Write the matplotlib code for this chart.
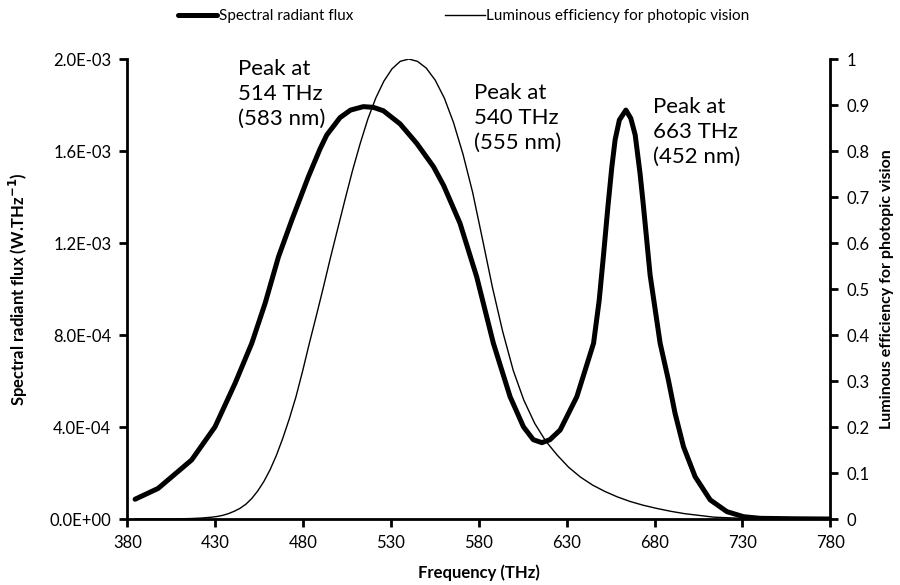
import numpy as np
import matplotlib
matplotlib.use('Agg')
import matplotlib.pyplot as plt
from matplotlib.ticker import FuncFormatter

plt.rcParams['font.family'] = ['Lato', 'DejaVu Sans']

# spectral radiant flux of the source (THz, W/THz)
flux_freq = [384.4, 397.5, 416.6, 429.9, 441.3, 450.8, 458.4, 466.0, 473.6, 483.0,
             489.7, 493.5, 501.0, 507.0, 514.3, 520.0, 525.7, 535.2, 544.7, 554.2,
             560.0, 569.3, 578.8, 588.3, 597.8, 605.4, 611.0, 615.9, 620.5, 626.3,
             635.8, 645.3, 648.5, 651.0, 653.5, 655.7, 657.6, 660.0, 663.7, 666.5,
             669.0, 671.8, 673.7, 677.5, 683.2, 687.9, 691.7, 696.5, 703.1, 711.7,
             721.2, 730.7, 740.2, 760.0, 780.0]
flux_vals = [0.086e-3, 0.133e-3, 0.257e-3, 0.401e-3, 0.590e-3, 0.764e-3, 0.938e-3, 1.140e-3, 1.300e-3, 1.488e-3,
             1.610e-3, 1.670e-3, 1.745e-3, 1.778e-3, 1.793e-3, 1.790e-3, 1.775e-3, 1.718e-3, 1.633e-3, 1.532e-3,
             1.450e-3, 1.286e-3, 1.053e-3, 0.764e-3, 0.532e-3, 0.401e-3, 0.345e-3, 0.332e-3, 0.345e-3, 0.387e-3,
             0.532e-3, 0.764e-3, 0.950e-3, 1.150e-3, 1.360e-3, 1.530e-3, 1.650e-3, 1.735e-3, 1.778e-3, 1.742e-3,
             1.670e-3, 1.500e-3, 1.360e-3, 1.060e-3, 0.764e-3, 0.604e-3, 0.459e-3, 0.314e-3, 0.184e-3, 0.083e-3,
             0.032e-3, 0.010e-3, 0.003e-3, 0.001e-3, 0.0]

# photopic luminous efficiency
lum_freq = [384.4, 389.3, 394.5, 399.7, 405.1, 410.7, 416.4, 422.2, 428.3, 431.4,
            434.5, 437.7, 440.9, 444.1, 447.4, 450.8, 454.2, 457.7, 461.2, 464.8,
            468.4, 472.1, 475.9, 479.7, 483.5, 487.5, 491.5, 495.5, 499.7, 503.9,
            508.1, 512.5, 516.9, 521.4, 526.0, 530.6, 535.3, 540.2, 545.1, 550.1,
            555.2, 560.4, 565.6, 571.0, 576.5, 582.1, 587.8, 593.6, 599.6, 605.6,
            611.8, 618.1, 624.6, 631.1, 637.9, 644.7, 651.7, 658.9, 666.2, 673.7,
            681.3, 689.2, 697.2, 713.8, 731.2, 749.5, 768.7, 788.9]
lum_vals = [0.000015, 0.00003, 0.00006, 0.00012, 0.000249, 0.00052, 0.001047, 0.002091, 0.004102, 0.00572,
            0.00821, 0.01192, 0.017, 0.0232, 0.032, 0.04458, 0.061, 0.0816, 0.107, 0.1382,
            0.175, 0.217, 0.265, 0.321, 0.381, 0.4412, 0.503, 0.5668, 0.631, 0.6949,
            0.757, 0.8163, 0.870, 0.9154, 0.952, 0.9786, 0.995, 1.0, 0.99495, 0.9803,
            0.954, 0.9149, 0.862, 0.7932, 0.710, 0.6082, 0.503, 0.4075, 0.323, 0.2586,
            0.20802, 0.1693, 0.13902, 0.1126, 0.09098, 0.0739, 0.060, 0.048, 0.038, 0.0298,
            0.023, 0.0168, 0.0116, 0.004, 0.00121, 0.000396, 0.00012, 0.000039]

x_ticks = [380, 430, 480, 530, 580, 630, 680, 730, 780]
left_ticks = [0.0, 4e-4, 8e-4, 1.2e-3, 1.6e-3, 2.0e-3]
right_ticks = [0, 0.1, 0.2, 0.3, 0.4, 0.5, 0.6, 0.7, 0.8, 0.9, 1]

peak_labels = ['Peak at\n514 THz\n(583 nm)', 'Peak at\n540 THz\n(555 nm)', 'Peak at\n663 THz\n(452 nm)']
label_pos = [(443.2, 1.849e-3), (577.5, 1.743e-3), (679.4, 1.684e-3)]

fig = plt.figure(figsize=(9, 5.85), dpi=100)
ax = fig.add_axes([0.1415, 0.1128, 0.781, 0.7863])
ax2 = ax.twinx()

l1, = ax.plot(flux_freq, flux_vals, color='black', lw=3.6, solid_capstyle='round',
              solid_joinstyle='round', label='Spectral radiant flux', zorder=3)
l2, = ax2.plot(lum_freq, lum_vals, color='black', lw=1.0, label='Luminous efficiency for photopic vision')

ax.set_xlim(380, 780)
ax.set_ylim(0, 2.0e-3)
ax2.set_ylim(0, 1)
ax.set_xticks(x_ticks)
ax.set_yticks(left_ticks)
ax2.set_yticks(right_ticks)
ax.yaxis.set_major_formatter(FuncFormatter(lambda v, p: '{:.1E}'.format(v)))
ax2.yaxis.set_major_formatter(FuncFormatter(lambda v, p: '{:g}'.format(v)))

for a in (ax, ax2):
    a.spines['top'].set_visible(False)
    for s in ('left', 'bottom', 'right'):
        a.spines[s].set_linewidth(2.0)
    a.tick_params(direction='out', length=5.5, width=2.0, labelsize=12, pad=6)
ax.spines['right'].set_visible(False)
ax2.spines['left'].set_visible(False)
ax2.spines['bottom'].set_visible(False)

ax.set_xlabel('Frequency (THz)', fontsize=12, fontweight='bold', labelpad=10)
ax.set_ylabel('Spectral radiant flux (W.THz$^{\\mathbf{-1}}$)', fontsize=12, fontweight='bold', labelpad=14)
ax2.set_ylabel('Luminous efficiency for photopic vision', fontsize=11.5, fontweight='bold', labelpad=8)

for txt, (px, py) in zip(peak_labels, label_pos):
    ax.text(px, py, txt, ha='left', va='center', fontsize=16, linespacing=1.3)

fig.legend(handles=[l1, l2], loc='center', bbox_to_anchor=(0.515, 0.972), ncol=2, frameon=False,
           fontsize=11, handlelength=2.6, handletextpad=0.1, columnspacing=6.0)

fig.savefig('out.png', dpi=100)
